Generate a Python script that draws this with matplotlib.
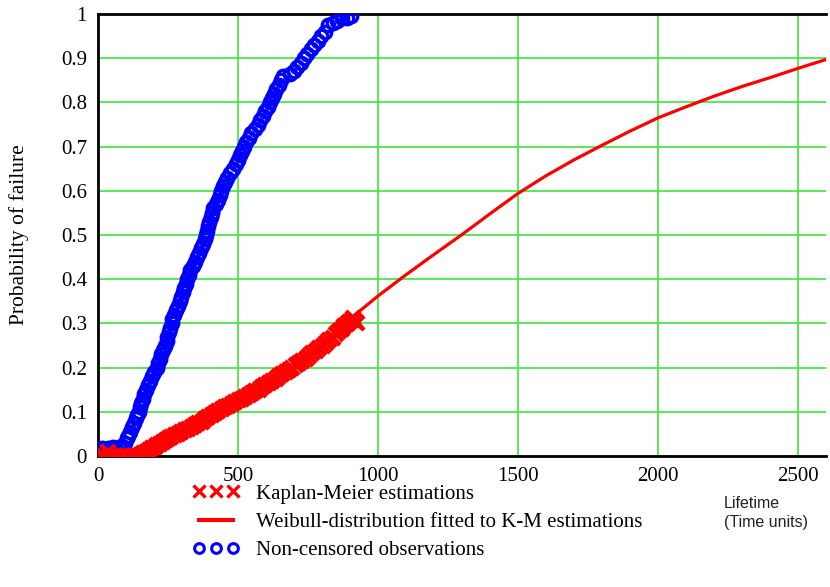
import matplotlib.pyplot as plt
from matplotlib.lines import Line2D

# Non-censored observations (blue circles)
blue_t = [5, 15, 25, 35, 45, 55, 65, 75, 85,
          95, 102, 108, 115, 122, 128, 134, 140, 146, 150, 155, 160, 166, 172, 178,
          186, 194, 200, 210, 216, 220, 226, 232, 240, 245, 248, 254, 258, 263, 266,
          270, 278, 286, 292, 298, 303, 308, 313, 318, 324, 330, 338, 346, 353, 360,
          368, 376, 382, 386, 390, 394, 398, 402, 406, 412, 420, 428, 434, 440, 446,
          452, 462, 472, 482, 492, 500, 508, 516, 523, 530, 538, 548, 560, 570, 580,
          590, 598, 606, 614, 620, 628, 636, 645, 652, 662, 684, 700, 712, 724, 735,
          748, 760, 772, 786, 798, 810, 820, 838, 855, 872, 890, 905]
blue_p = [0.015, 0.018, 0.012, 0.018, 0.015, 0.02, 0.015, 0.02, 0.022,
          0.03, 0.04, 0.045, 0.055, 0.065, 0.075, 0.085, 0.092, 0.1, 0.11, 0.12, 0.13, 0.14, 0.15, 0.16,
          0.17, 0.18, 0.19, 0.2, 0.21, 0.22, 0.23, 0.24, 0.25, 0.26, 0.27, 0.28, 0.29, 0.3, 0.31,
          0.32, 0.33, 0.34, 0.35, 0.36, 0.37, 0.38, 0.39, 0.4, 0.41, 0.42, 0.43, 0.44, 0.45, 0.46,
          0.47, 0.48, 0.49, 0.5, 0.51, 0.52, 0.53, 0.54, 0.55, 0.56, 0.57, 0.58, 0.59, 0.6, 0.61,
          0.62, 0.63, 0.64, 0.65, 0.66, 0.67, 0.68, 0.69, 0.7, 0.71, 0.72, 0.73, 0.74, 0.75, 0.76,
          0.77, 0.78, 0.79, 0.8, 0.81, 0.82, 0.83, 0.84, 0.85, 0.86, 0.865, 0.87, 0.88, 0.89, 0.9,
          0.91, 0.92, 0.93, 0.94, 0.95, 0.96, 0.975, 0.98, 0.985, 0.99, 0.99, 0.995]

# Kaplan-Meier estimations (red crosses)
km_t = [0, 10, 20, 35, 45, 60, 75, 90, 105, 120, 135, 150, 162, 172, 182, 192, 202,
        212, 222, 232, 242, 252, 262, 274, 286, 298, 310, 322, 334, 346, 358, 370,
        382, 394, 406, 418, 430, 442, 454, 466, 478, 490, 502, 514, 526, 538, 550,
        562, 574, 586, 598, 610, 622, 634, 646, 658, 670, 682, 694, 706, 718, 730,
        742, 754, 766, 778, 790, 802, 814, 826, 838, 850, 860, 870, 880, 890, 898,
        906, 912, 918, 925]
km_p = [0, 0, 0, 0.01, 0, 0, 0, 0, 0, 0, 0, 0.003, 0.006, 0.01, 0.013, 0.017, 0.02,
        0.024, 0.028, 0.032, 0.036, 0.04, 0.043, 0.047, 0.05, 0.054, 0.058, 0.062, 0.066, 0.07, 0.074, 0.078,
        0.083, 0.088, 0.093, 0.098, 0.102, 0.106, 0.11, 0.114, 0.118, 0.122, 0.126, 0.13, 0.134, 0.138, 0.142,
        0.146, 0.15, 0.155, 0.16, 0.165, 0.17, 0.175, 0.18, 0.185, 0.19, 0.195, 0.2, 0.205, 0.21, 0.215,
        0.22, 0.226, 0.232, 0.238, 0.244, 0.25, 0.256, 0.262, 0.268, 0.275, 0.282, 0.288, 0.293, 0.298, 0.303,
        0.308, 0.312, 0.305, 0.3]

# Weibull-distribution fitted to K-M estimations (red line)
weib_t = [100, 200, 300, 400, 500, 600, 700, 800, 900, 1000, 1100, 1200, 1300,
          1400, 1500, 1600, 1700, 1800, 1900, 2000, 2100, 2200, 2300, 2400, 2500, 2600]
weib_p = [0.0, 0.018, 0.045, 0.08, 0.12, 0.16, 0.205, 0.255, 0.31, 0.362, 0.41, 0.456, 0.501,
          0.548, 0.594, 0.634, 0.67, 0.703, 0.735, 0.765, 0.79, 0.814, 0.836, 0.856, 0.877, 0.897]

x_ticks = [0, 500, 1000, 1500, 2000, 2500]
y_ticks = [0, 0.1, 0.2, 0.3, 0.4, 0.5, 0.6, 0.7, 0.8, 0.9, 1]
y_labels = ['0', '0.1', '0.2', '0.3', '0.4', '0.5', '0.6', '0.7', '0.8', '0.9', '1']

serif = 'Liberation Serif'
green = '#3ce63c'

fig = plt.figure(figsize=(8.3, 5.87), dpi=100)
ax = fig.add_axes([98 / 830, 1 - 456 / 587, 728 / 830, 442 / 587])

ax.plot(blue_t, blue_p, 'o', ms=9, mfc='none', mec='#0000ff', mew=2.4, zorder=3)
ax.plot(km_t, km_p, 'x', ms=10, mec='#ff0000', mew=3.2, zorder=4)
ax.plot(weib_t, weib_p, '-', color='#ff0000', lw=2.3, zorder=5)

ax.set_xlim(0, 2600)
ax.set_ylim(0, 1)
ax.set_xticks(x_ticks)
ax.set_yticks(y_ticks)
ax.set_yticklabels(y_labels)
ax.grid(True, color=green, lw=1.2)
ax.set_axisbelow(True)
ax.tick_params(length=0, labelsize=15, pad=8)
for lab in ax.get_xticklabels() + ax.get_yticklabels():
    lab.set_family(serif)

for s in ['left', 'bottom', 'top']:
    ax.spines[s].set_linewidth(2)
    ax.spines[s].set_color('black')
ax.spines['right'].set_visible(False)

ax.set_ylabel('Probability of failure', family=serif, fontsize=15.5)
ax.yaxis.set_label_coords(-0.095, 0.5)

fig.text(724 / 830, 1 - 503 / 587, 'Lifetime', family='Liberation Sans',
         fontsize=11.5, color='#222222', va='center')
fig.text(724 / 830, 1 - 523 / 587, '(Time units)', family='Liberation Sans',
         fontsize=11.5, color='#222222', va='center')

handles = [
    Line2D([], [], ls='none', marker='x', ms=8, mec='#ff0000', mew=2.4),
    Line2D([], [], color='#ff0000', lw=3),
    Line2D([], [], ls='none', marker='o', ms=7, mfc='none', mec='#0000ff', mew=2.2),
]
labels = ['Kaplan-Meier estimations',
          'Weibull-distribution fitted to K-M estimations',
          'Non-censored observations']
fig.legend(handles, labels, loc='upper left', bbox_to_anchor=(193 / 830, 1 - 484 / 587),
           frameon=False, numpoints=3, handlelength=2.2, handletextpad=0.8,
           labelspacing=0.42, borderpad=0, borderaxespad=0,
           prop={'family': serif, 'size': 15})

fig.savefig('out.png', dpi=100)
